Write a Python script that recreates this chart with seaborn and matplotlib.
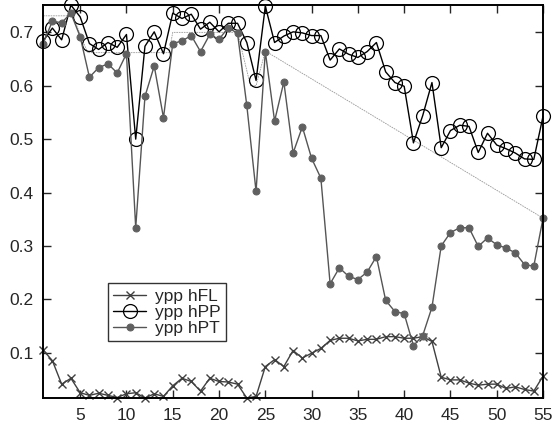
import numpy as np
import pandas as pd
import matplotlib
matplotlib.use("Agg")
import matplotlib.pyplot as plt
import seaborn as sns

# values
idx = list(range(1, 56))

hFL = [0.105, 0.085, 0.041, 0.052, 0.025, 0.020, 0.024, 0.020, 0.016, 0.023,
       0.025, 0.015, 0.023, 0.018, 0.038, 0.052, 0.046, 0.028, 0.052, 0.046,
       0.045, 0.041, 0.015, 0.018, 0.074, 0.087, 0.074, 0.104, 0.090, 0.099,
       0.108, 0.123, 0.127, 0.127, 0.122, 0.125, 0.125, 0.130, 0.130, 0.127,
       0.127, 0.130, 0.121, 0.054, 0.049, 0.049, 0.043, 0.039, 0.041, 0.041,
       0.033, 0.036, 0.031, 0.028, 0.056]

hPP = [0.684, 0.708, 0.686, 0.751, 0.729, 0.679, 0.668, 0.681, 0.672, 0.696,
       0.500, 0.674, 0.701, 0.660, 0.736, 0.726, 0.734, 0.706, 0.719, 0.701,
       0.717, 0.717, 0.681, 0.610, 0.749, 0.681, 0.693, 0.701, 0.699, 0.694,
       0.694, 0.648, 0.669, 0.659, 0.653, 0.664, 0.681, 0.626, 0.606, 0.599,
       0.493, 0.544, 0.606, 0.484, 0.516, 0.526, 0.524, 0.475, 0.511, 0.489,
       0.482, 0.474, 0.463, 0.462, 0.543]

hPT = [0.679, 0.721, 0.718, 0.736, 0.692, 0.616, 0.634, 0.641, 0.624, 0.660,
       0.334, 0.580, 0.637, 0.540, 0.679, 0.684, 0.694, 0.664, 0.696, 0.687,
       0.709, 0.698, 0.563, 0.402, 0.664, 0.534, 0.607, 0.474, 0.523, 0.464,
       0.427, 0.229, 0.259, 0.243, 0.237, 0.251, 0.280, 0.198, 0.177, 0.173,
       0.113, 0.132, 0.185, 0.300, 0.325, 0.334, 0.334, 0.299, 0.315, 0.302,
       0.296, 0.287, 0.265, 0.262, 0.352]

# thin gray guide line seen behind the series
guide_x = [1, 4.2, 5.8, 14.6, 15.0, 22.0, 23.4, 24.0, 25.0, 55.0]
guide_y = [0.731, 0.731, 0.662, 0.662, 0.700, 0.700, 0.600, 0.600, 0.665, 0.352]

df = pd.DataFrame({"idx": idx, "hFL": hFL, "hPP": hPP, "hPT": hPT})
guide = pd.DataFrame({"x": guide_x, "y": guide_y})

sns.set_style("ticks")
plt.rcParams["font.family"] = ["Liberation Sans", "DejaVu Sans"]
plt.rcParams["xtick.direction"] = "in"
plt.rcParams["ytick.direction"] = "in"

fig = plt.figure(figsize=(5.53, 4.28), dpi=100)
ax = fig.add_axes([0.078, 0.070, 0.904, 0.918])

sns.lineplot(data=guide, x="x", y="y", ax=ax, color="#999999", lw=0.6,
             linestyle=(0, (2, 1)), sort=False, legend=False)
sns.lineplot(data=df, x="idx", y="hFL", ax=ax, color="#404040", lw=1.0,
             marker="x", markersize=6, markeredgewidth=1.0,
             markeredgecolor="#404040", label="ypp hFL", clip_on=False)
sns.lineplot(data=df, x="idx", y="hPP", ax=ax, color="black", lw=1.0,
             marker="o", markersize=10, markerfacecolor="none",
             markeredgecolor="black", markeredgewidth=0.9, label="ypp hPP",
             clip_on=False)
sns.lineplot(data=df, x="idx", y="hPT", ax=ax, color="#555555", lw=1.0,
             marker="o", markersize=5, markerfacecolor="#606060",
             markeredgecolor="#606060", label="ypp hPT", clip_on=False)

ax.set_xlim(1, 55)
ax.set_ylim(min(hFL), max(hPP))
ax.set_xticks(range(5, 56, 5))
ax.set_yticks([0.1, 0.2, 0.3, 0.4, 0.5, 0.6, 0.7])
ax.set_yticklabels(["0.1", "0.2", "0.3", "0.4", "0.5", "0.6", "0.7"])
ax.set_xlabel("")
ax.set_ylabel("")
ax.tick_params(axis="both", labelsize=12.5, length=6, width=1,
               top=True, right=True, pad=7)
for s in ax.spines.values():
    s.set_linewidth(1.4)
    s.set_color("black")

leg = ax.legend(loc="lower left", bbox_to_anchor=(0.13, 0.145),
                fontsize=12.5, frameon=True, fancybox=False,
                handlelength=1.9, handletextpad=0.5, borderpad=0.3,
                labelspacing=0.05, borderaxespad=0)
leg.get_frame().set_edgecolor("black")
leg.get_frame().set_linewidth(1.0)

fig.savefig("out.png", dpi=100)
